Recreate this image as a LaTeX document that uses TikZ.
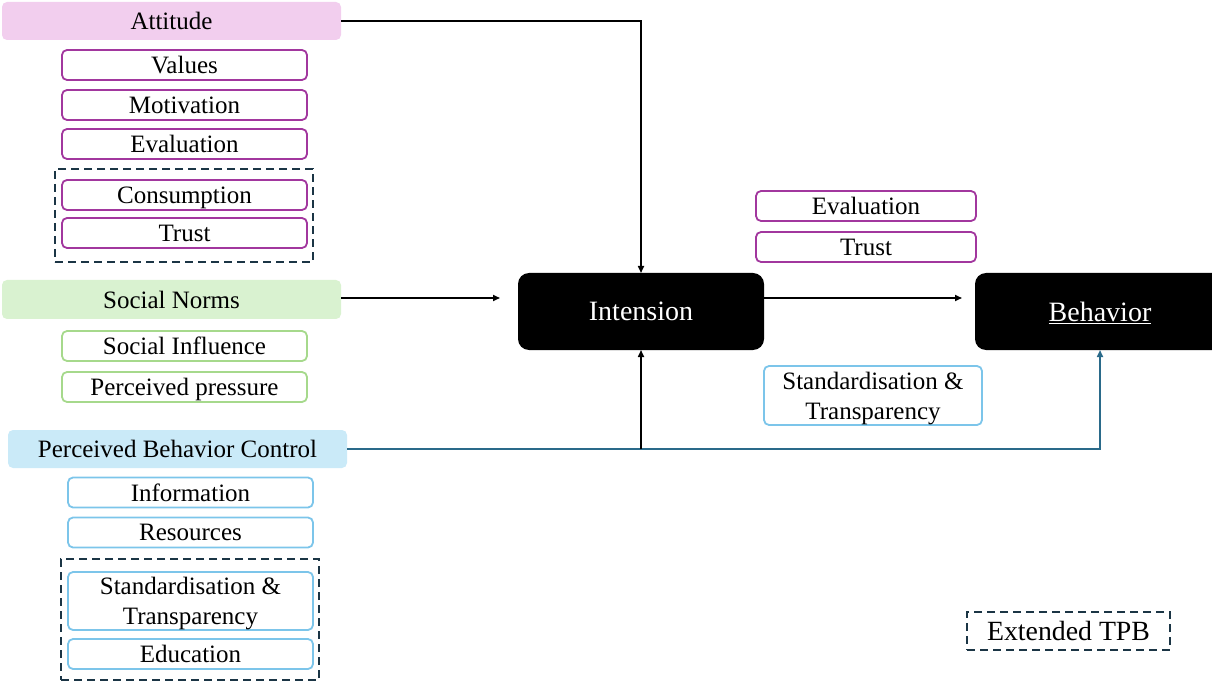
\documentclass[tikz,border=0pt]{standalone}
\usepackage{fontspec}
\setmainfont{Liberation Serif}
\newfontfamily\tnr{Liberation Serif}
\usetikzlibrary{arrows.meta}
\definecolor{attfill}{HTML}{F2CEEE}
\definecolor{attline}{HTML}{A2379E}
\definecolor{snfill}{HTML}{D9F2D0}
\definecolor{snline}{HTML}{A6D98C}
\definecolor{pbcfill}{HTML}{CAEAF8}
\definecolor{pbcline}{HTML}{7CC5EA}
\definecolor{dashcol}{HTML}{1B3545}
\definecolor{pbcarrow}{HTML}{2A6A8A}
\tikzset{
  head/.style={fill=#1, draw=none, rounded corners=5pt, inner sep=0pt, outer sep=0pt,
    text depth=0pt, font=\tnr\fontsize{25}{27}\selectfont},
  sub/.style={draw=#1, line width=1.8pt, fill=white, rounded corners=5pt, inner sep=0pt,
    outer sep=0pt, minimum width=245pt, minimum height=30pt, align=center, text depth=0pt,
    font=\tnr\fontsize{25}{30}\selectfont},
  core/.style={fill=black, text=white, rounded corners=11pt, inner sep=0pt, outer sep=0pt,
    minimum height=77pt, text depth=0pt, font=\tnr\fontsize{28}{30}\selectfont},
  extbox/.style={draw=dashcol, line width=2.2pt, dash pattern=on 8pt off 5pt, inner sep=0pt,
    outer sep=0pt, text depth=0pt},
  link/.style={line width=1.6pt, -{Triangle[length=7pt,width=6pt]}},
}
\begin{document}
\begin{tikzpicture}[x=1pt,y=-1pt]
\useasboundingbox (0,0) rectangle (1212,684);

% Attitude group
\node[head=attfill, minimum width=339pt, minimum height=38pt] (att) at (171.5,21) {Attitude};
\node[sub=attline] (values) at (184.5,65) {Values};
\node[sub=attline] (motiv) at (184.5,105) {Motivation};
\node[sub=attline] (evalL) at (184.5,144) {Evaluation};
\node[extbox, minimum width=258pt, minimum height=93pt] (attext) at (184,215.5) {};
\node[sub=attline] (consum) at (184.5,195) {Consumption};
\node[sub=attline] (trustL) at (184.5,233) {Trust};

% Social norms group
\node[head=snfill, minimum width=339pt, minimum height=39pt] (sn) at (171.5,299.5) {Social Norms};
\node[sub=snline] (sinfl) at (184.5,346) {Social Influence};
\node[sub=snline] (ppress) at (184.5,387) {Perceived pressure};

% Perceived behavior control group
\node[head=pbcfill, minimum width=339pt, minimum height=38pt] (pbc) at (177.5,449) {Perceived Behavior Control};
\node[sub=pbcline] (info) at (190.5,492.5) {Information};
\node[sub=pbcline] (res) at (190.5,532.5) {Resources};
\node[extbox, minimum width=258pt, minimum height=121pt] (pbcext) at (190,619.5) {};
\node[sub=pbcline, minimum height=58pt] (stdL) at (190.5,601) {Standardisation \&\\Transparency};
\node[sub=pbcline] (edu) at (190.5,654) {Education};

% Core constructs
\node[core, minimum width=246pt] (int) at (641,311.5) {Intension};
\node[core, minimum width=250pt] (beh) at (1100,311.5) {\underline{Behavior}};

% Moderators between intention and behavior
\node[sub=attline, minimum width=220pt] (evalR) at (866,206) {Evaluation};
\node[sub=attline, minimum width=220pt] (trustR) at (866,247) {Trust};
\node[sub=pbcline, minimum width=218pt, minimum height=59pt] (stdR) at (873,395.5) {Standardisation \&\\Transparency};

% Legend
\node[extbox, minimum width=203pt, minimum height=38pt, font=\tnr\fontsize{27.8}{30}\selectfont] (legend) at (1068.5,631) {Extended TPB};

% Paths
\coordinate (snend) at (500,298);
\coordinate (behend) at (962,298);
\draw[link] (att.east) -| (int.north);
\draw[link] (sn.east |- snend) -- (snend);
\draw[link] (int.east |- behend) -- (behend);
\draw[line width=1.6pt, pbcarrow, -{Triangle[length=7pt,width=6pt]}] (pbc.east) -| (beh.south);
\draw[link] (int.south |- pbc.east) -- (int.south);
\end{tikzpicture}
\end{document}
